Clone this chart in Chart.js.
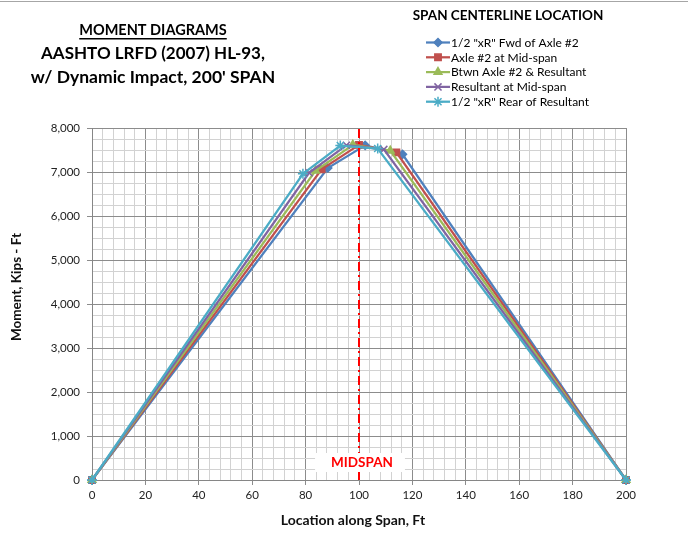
<!DOCTYPE html>
<html lang="en">
<head>
  <meta charset="UTF-8">
  <title>Moment Diagrams - HL-93, 200' span</title>
  <script src="https://cdn.jsdelivr.net/npm/chart.js@4.4.0/dist/chart.umd.min.js"></script>
  <style>
    body { margin: 0; background: #fff; }
    #wrap { width: 694px; height: 537px; }
  </style>
</head>
<body>
<div id="wrap"><canvas id="moment" width="694" height="537"></canvas></div>
<script>
  // points under each axle (8k, 32k, 32k) plus the supports
  const fwdX = [0, 88.3, 102.3, 116.3, 200];
  const fwdM = [0, 7090, 7606, 7401, 0];
  const axleX = [0, 86, 100, 114, 200];
  const axleM = [0, 7063, 7616, 7447, 0];
  const btwnX = [0, 83.7, 97.7, 111.7, 200];
  const btwnM = [0, 7027, 7617, 7485, 0];
  const resX = [0, 81.3, 95.3, 109.3, 200];
  const resM = [0, 6983, 7609, 7513, 0];
  const rearX = [0, 79, 93, 107, 200];
  const rearM = [0, 6960, 7600, 7533, 0];

  const midspanX = [100, 100];
  const midspanM = [0, 8000];

  const seriesNames = [
    '1/2 "xR" Fwd of Axle #2',
    'Axle #2 at Mid-span',
    'Btwn Axle #2 & Resultant',
    'Resultant at Mid-span',
    '1/2 "xR" Rear of Resultant'
  ];
  const titleLines = ['MOMENT DIAGRAMS', 'AASHTO LRFD (2007) HL-93,', "w/ Dynamic Impact, 200' SPAN"];
  const legendTitle = 'SPAN CENTERLINE LOCATION';
  const midspanLabel = 'MIDSPAN';
  const xTitle = 'Location along Span, Ft';
  const yTitle = 'Moment, Kips - Ft';

  const FONT = 'Lato, "DejaVu Sans", sans-serif';

  function pts(xs, ys) {
    return xs.map((x, i) => ({x: x, y: ys[i]}));
  }

  const styles = [
    {color: '#4F81BD', pointStyle: 'rectRot', radius: 4},
    {color: '#C0504D', pointStyle: 'rect', radius: 4.5},
    {color: '#9BBB59', pointStyle: 'triangle', radius: 4.5},
    {color: '#8064A2', pointStyle: 'crossRot', radius: 5},
    {color: '#4BACC6', pointStyle: 'star', radius: 5}
  ];
  const seriesData = [pts(fwdX, fwdM), pts(axleX, axleM), pts(btwnX, btwnM), pts(resX, resM), pts(rearX, rearM)];

  const datasets = seriesData.map((d, i) => ({
    label: seriesNames[i],
    data: d,
    borderColor: styles[i].color,
    backgroundColor: styles[i].color,
    borderWidth: 2.25,
    pointStyle: styles[i].pointStyle,
    pointRadius: styles[i].radius,
    pointBorderWidth: 1.5,
    tension: 0,
    clip: false,
    order: 5 - i   // later series on top, like the spreadsheet
  }));
  datasets.push({
    label: 'Midspan',
    data: pts(midspanX, midspanM),
    borderColor: '#FF0000',
    borderWidth: 2,
    borderDash: [9, 4, 2, 4],
    pointRadius: 0,
    order: -1
  });

  const decorations = {
    id: 'decorations',
    afterDraw(chart) {
      const ctx = chart.ctx;
      ctx.save();
      // frame line on top
      ctx.strokeStyle = '#a6a6a6';
      ctx.lineWidth = 1;
      ctx.beginPath();
      ctx.moveTo(0, 1.5);
      ctx.lineTo(688, 1.5);
      ctx.stroke();

      // title block
      ctx.fillStyle = '#000';
      ctx.textAlign = 'center';
      ctx.textBaseline = 'middle';
      const tx = 153;
      const ty = [30, 54, 77];
      const tsize = [14.5, 17, 17.5];
      titleLines.forEach((t, i) => {
        ctx.font = 'bold ' + tsize[i] + 'px ' + FONT;
        ctx.fillText(t, tx, ty[i]);
      });
      ctx.font = 'bold 14.5px ' + FONT;
      const w0 = ctx.measureText(titleLines[0]).width;
      ctx.fillRect(tx - w0 / 2, ty[0] + 8, w0, 1.5);

      // axis titles
      ctx.fillStyle = '#111';
      ctx.font = 'bold 14px ' + FONT;
      ctx.fillText(xTitle, 353, 520);
      ctx.save();
      ctx.translate(17, 287);
      ctx.rotate(-Math.PI / 2);
      ctx.font = 'bold 13.5px ' + FONT;
      ctx.fillText(yTitle, 0, 0);
      ctx.restore();

      // legend
      ctx.fillStyle = '#000';
      ctx.font = 'bold 13.5px ' + FONT;
      ctx.fillText(legendTitle, 508, 16);
      ctx.textAlign = 'left';
      ctx.font = '12px ' + FONT;
      seriesNames.forEach((name, i) => {
        const y = 42.5 + i * 14.8;
        const s = styles[i];
        ctx.strokeStyle = s.color;
        ctx.fillStyle = s.color;
        ctx.lineWidth = 2.25;
        ctx.beginPath();
        ctx.moveTo(426, y);
        ctx.lineTo(450, y);
        ctx.stroke();
        ctx.lineWidth = 1.5;
        Chart.helpers.drawPoint(ctx, {pointStyle: s.pointStyle, radius: s.radius, rotation: 0, borderWidth: 1.5}, 438, y);
        ctx.fillStyle = '#000';
        ctx.fillText(name, 451, y + 0.5);
      });

      // midspan label box
      const mx = chart.scales.x.getPixelForValue(100);
      ctx.font = 'bold 13.5px ' + FONT;
      const lw = ctx.measureText(midspanLabel).width;
      ctx.fillStyle = '#fff';
      ctx.fillRect(mx - lw / 2 - 13, 453, lw + 28, 19);
      ctx.fillStyle = '#FF0000';
      ctx.textAlign = 'center';
      ctx.fillText(midspanLabel, mx + 3, 463);
      ctx.restore();
    }
  };

  const majorGrid = '#8c8c8c';
  const minorGrid = '#d2d2d2';

  new Chart(document.getElementById('moment'), {
    type: 'line',
    data: {datasets: datasets},
    options: {
      responsive: false,
      animation: false,
      layout: {padding: {top: 128, right: 68, left: 0, bottom: 0}},
      plugins: {
        legend: {display: false},
        tooltip: {enabled: false}
      },
      scales: {
        x: {
          type: 'linear',
          min: 0,
          max: 200,
          afterFit(s) { s.height = 57; },
          ticks: {
            stepSize: 4,
            autoSkip: false,
            maxRotation: 0,
            padding: 3,
            color: '#222',
            font: {family: FONT, size: 11.5},
            callback: (v) => (v % 20 === 0 ? String(v) : '')
          },
          grid: {
            color: (c) => (c.tick && c.tick.value % 20 === 0 ? majorGrid : minorGrid),
            tickColor: (c) => (c.tick && c.tick.value % 20 === 0 ? majorGrid : 'rgba(0,0,0,0)'),
            tickLength: 5
          },
          border: {color: '#868686'}
        },
        y: {
          min: 0,
          max: 8000,
          afterFit(s) { s.width = 92; },
          ticks: {
            stepSize: 250,
            autoSkip: false,
            padding: 7,
            color: '#222',
            font: {family: FONT, size: 11.5},
            callback: (v) => (v % 1000 === 0 ? v.toLocaleString('en-US') : '')
          },
          grid: {
            color: (c) => (c.tick && c.tick.value % 1000 === 0 ? majorGrid : minorGrid),
            tickColor: (c) => (c.tick && c.tick.value % 1000 === 0 ? majorGrid : 'rgba(0,0,0,0)'),
            tickLength: 5
          },
          border: {color: '#868686'}
        }
      }
    },
    plugins: [decorations]
  });
</script>
</body>
</html>
